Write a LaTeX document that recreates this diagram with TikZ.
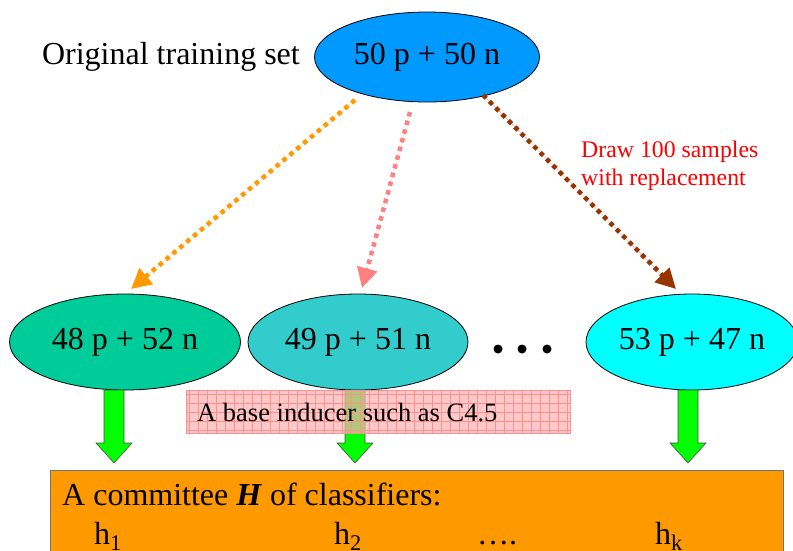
\documentclass[tikz,border=0pt]{standalone}
\usepackage{fontspec}
\setmainfont{Liberation Serif}
\usetikzlibrary{shapes.geometric,arrows.meta}
\definecolor{topblue}{HTML}{0099FF}
\definecolor{ellA}{HTML}{00CC99}
\definecolor{ellB}{HTML}{33CCCC}
\definecolor{ellC}{HTML}{00FFFF}
\definecolor{arrOrange}{HTML}{FF9900}
\definecolor{arrPink}{HTML}{FF8080}
\definecolor{arrBrown}{HTML}{993300}
\definecolor{boxOrange}{HTML}{FF9900}
\definecolor{pinkFill}{HTML}{FFB0B0}
\definecolor{pinkGrid}{HTML}{FF9090}
\definecolor{blockGreen}{HTML}{00FF00}
\begin{document}
\begin{tikzpicture}[x=1pt,y=-1pt,
  bigtext/.style={font=\fontsize{32}{38}\selectfont},
  ell/.style={ellipse, draw=black, line width=0.8pt, inner sep=0pt, bigtext},
  sampling/.style={line width=4.5pt, dash pattern=on 4.5pt off 4.5pt,
      -{Triangle[length=20pt,width=20pt]}, shorten >=0pt},
  garrowstyle/.style={fill=blockGreen, draw=black!70, line width=0.6pt},
  garrow/.pic={\draw[garrowstyle] (-10,0) -- (10,0) -- (10,53) -- (18,53) -- (0,73) -- (-18,53) -- (-10,53) -- cycle;}
]
\useasboundingbox (0,0) rectangle (793,550);

% named end points of the sampling connectors
\coordinate (sA) at (355,100);
\coordinate (eA) at (131,289);
\coordinate (sB) at (410,112);
\coordinate (eB) at (362,288);
\coordinate (sC) at (483,95);
\coordinate (eC) at (676,289);

% top ellipse and label
\node[ell, fill=topblue, minimum width=225, minimum height=90] (top) at (427,57) {50 p + 50 n};
\node[bigtext, anchor=east, inner sep=0pt] (orig) at (300,57) {Original training set};

% sampling arrows
\draw[sampling, draw=arrOrange, fill=arrOrange] (sA) -- (eA);
\draw[sampling, draw=arrPink, fill=arrPink] (sB) -- (eB);
\draw[sampling, draw=arrBrown, fill=arrBrown] (sC) -- (eC);

\node[font=\fontsize{23.8}{28}\selectfont, text=red, align=left, anchor=north west, inner sep=0pt] (note) at (581,141) {Draw 100 samples\\with replacement};

% bootstrap samples
\node[ell, fill=ellA, minimum width=231, minimum height=96] (s1) at (125,342) {48 p + 52 n};
\node[ell, fill=ellB, minimum width=220, minimum height=96] (s2) at (358,342) {49 p + 51 n};
\node[ell, fill=ellC, minimum width=212, minimum height=96] (s3) at (692,342) {53 p + 47 n};
\fill (498,349) circle (4.5);
\fill (522,349) circle (4.5);
\fill (547,349) circle (4.5);

% green block arrows
\pic at (114,390) {garrow};
\pic at (355,390) {garrow};
\pic at (688,390) {garrow};

% base inducer box
\node[anchor=north west, minimum width=384, minimum height=43, inner sep=0pt,
      draw=pinkGrid, fill=pinkFill, fill opacity=0.7, line width=0.6pt,
      path picture={\draw[pinkGrid, line width=0.4pt, step=9pt] (path picture bounding box.south west) grid (path picture bounding box.north east);}]
      (base) at (186,390) {};
\node[font=\fontsize{26.5}{30}\selectfont, anchor=west, inner sep=0pt] (basetext) at (197,412) {A base inducer such as C4.5};

% committee box
\node[anchor=north west, minimum width=733, minimum height=95, inner sep=0pt,
      draw=black!55, fill=boxOrange, line width=0.8pt] (comm) at (50,470) {};
\node[bigtext, anchor=west, inner sep=0pt] (commtext) at (62,494) {A committee \textbf{\textit{H}} of classifiers:};
\node[bigtext, anchor=base west, inner sep=0pt] (h1) at (94,544) {h\textsubscript{1}};
\node[bigtext, anchor=base west, inner sep=0pt] (h2) at (334,544) {h\textsubscript{2}};
\node[bigtext, anchor=base west, inner sep=0pt] (hd) at (477,544) {\dots.};
\node[bigtext, anchor=base west, inner sep=0pt] (hk) at (655,544) {h\textsubscript{k}};
\end{tikzpicture}
\end{document}
